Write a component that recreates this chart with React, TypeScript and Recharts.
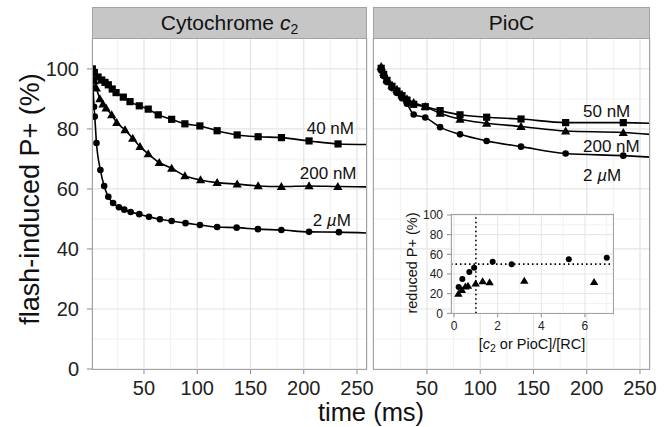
import React from "react";
import {
  ComposedChart,
  ScatterChart,
  Line,
  Scatter,
  XAxis,
  YAxis,
  CartesianGrid,
  ReferenceLine,
  ReferenceDot,
} from "recharts";

const FONT = "'Liberation Sans', Arial, Helvetica, sans-serif";

// ---------- data: Cytochrome c2 panel (time ms, flash-induced P+ %) ----------
const cyt40nM: number[][] = [
  [1.5, 100], [3.4, 98.8], [6.9, 97.3], [10.3, 96.3], [13.4, 95.5], [16.5, 94.7],
  [20.2, 93.3], [23.8, 92.1], [30.6, 90.6], [36.9, 89.1], [45.6, 87.7], [54, 86.6],
  [63.4, 84.7], [76, 83.2], [88.4, 81.7], [102.5, 81], [118.7, 79.4], [137.5, 78],
  [157.2, 77.4], [179.1, 77.1], [205, 76], [232.2, 75],
];
const cyt200nM: number[][] = [
  [1.5, 100], [3.4, 96], [5.3, 93.6], [8.6, 90], [11.5, 88.3], [14.4, 86.9],
  [19.7, 84.7], [24.4, 82.1], [32.2, 79.7], [39.4, 76.9], [46.3, 74.1], [54, 71.7],
  [64.3, 68.8], [76, 66.9], [88.4, 64.4], [103.1, 63], [118.7, 62.1], [137.5, 61.6],
  [157.2, 61], [179, 60.8], [205, 61], [232, 60.8],
];
const cyt2uM: number[][] = [
  [1.5, 99], [2.2, 93.6], [3.1, 87.4], [3.8, 84.1], [5.4, 75.3], [9.1, 66.3],
  [12.6, 61], [16.5, 57.4], [21, 55.3], [26.5, 53.9], [31.5, 53.1], [37.5, 52.3],
  [45.6, 51.6], [54.7, 50.7], [65, 49.9], [76, 49.3], [89, 48.6], [102.5, 48],
  [118.7, 47.3], [137, 47.1], [157, 46.6], [179, 46.3], [205, 45.7], [233, 45.6],
];
// fitted curves continue to the panel edge
const fitEndT = 259.4;
const cytFitEnd = { c40: 74.8, c200: 60.7, c2: 45.3 };

// ---------- data: PioC panel ----------
const pioT = [7, 9.3, 12.4, 17.1, 21.8, 26.5, 31.2, 37.5, 48.4, 62.3, 81, 106, 138.3, 180.2, 234.3];
const pio50nM = [100.2, 98.2, 96.2, 94.2, 92.6, 91.1, 89.6, 88.2, 87.4, 86.1, 84.7, 83.9, 83.3, 82.1, 82.1];
const pio200nM = [100.8, 98.8, 96.6, 94.6, 93.2, 91.5, 90, 88.8, 87.4, 85.2, 83.2, 81.9, 80.8, 79.3, 78.8];
const pio2uM = [99.5, 97.6, 95.6, 93.6, 92, 90.2, 88.4, 84.8, 83.8, 80.6, 78.2, 76, 74.1, 71.8, 71.1];
const pioFitEnd = { c50: 81.9, c200: 78.2, c2: 70.6 };

// ---------- data: inset (ratio, reduced P+ %) ----------
const insetCyt: number[][] = [
  [0.21, 26.7], [0.38, 34.8], [0.7, 41.9], [0.92, 46.4], [1.77, 52.5], [2.64, 50],
  [5.26, 55.1], [7.0, 56.4],
];
const insetPioC: number[][] = [
  [0.2, 20], [0.36, 23.7], [0.52, 27.2], [0.64, 28], [0.99, 30.3], [1.31, 32.7],
  [1.63, 31.6], [3.22, 33], [6.42, 31.8],
];

// ---------- ticks / labels ----------
const timeTicks = [50, 100, 150, 200, 250];
const timeMinor = [25, 75, 125, 175, 225];
const pctTicks = [0, 20, 40, 60, 80, 100];
const pctMinor = [10, 30, 50, 70, 90];
const ratioTicks = [0, 2, 4, 6];
const ratioMinor = [1, 3, 5, 7];
const insetPctMinor = [10, 30, 50, 70, 90];

const cytLabels = [
  { t: 202.8, y: 78.3, conc: "40", unit: "nM" },
  { t: 196.3, y: 63.3, conc: "200", unit: "nM" },
  { t: 208.4, y: 47.7, conc: "2", unit: "µM" },
];
const pioLabels = [
  { t: 196.5, y: 84, conc: "50", unit: "nM" },
  { t: 196.5, y: 72.3, conc: "200", unit: "nM" },
  { t: 196.5, y: 62.7, conc: "2", unit: "µM" },
];

const toXY = (arr: number[][]) => arr.map(([t, y]) => ({ t, y }));
const zipXY = (ts: number[], ys: number[]) => ts.map((t, i) => ({ t, y: ys[i] }));

const Square = (p: any) => <rect x={p.cx - 3.6} y={p.cy - 3.6} width={7.2} height={7.2} fill="#000" />;
const Circle = (p: any) => <circle cx={p.cx} cy={p.cy} r={3.3} fill="#000" />;
const Triangle = (p: any) => (
  <path d={`M${p.cx},${p.cy - 4.6} L${p.cx + 4.6},${p.cy + 3.4} L${p.cx - 4.6},${p.cy + 3.4} Z`} fill="#000" />
);
const SmallCircle = (p: any) => <circle cx={p.cx} cy={p.cy} r={3} fill="#000" />;
const SmallTriangle = (p: any) => (
  <path d={`M${p.cx},${p.cy - 4} L${p.cx + 4.2},${p.cy + 3} L${p.cx - 4.2},${p.cy + 3} Z`} fill="#000" />
);

const makeLabel = (conc: string, unit: string) => (p: any) => (
  <text x={p.cx} y={p.cy} fontFamily={FONT} fontSize={17} fill="#111">
    {conc + " "}
    {unit === "µM" ? (
      <>
        <tspan fontStyle="italic">µ</tspan>
        <tspan>M</tspan>
      </>
    ) : (
      <tspan>{unit}</tspan>
    )}
  </text>
);

const W = 669;
const H = 427;
const BORDER = "#a3a3a3";
const GRID_MAJOR = "#e4e4e4";
const GRID_MINOR = "#f1f1f1";
const tickStyle = { fontFamily: FONT, fontSize: 20, fill: "#222" };

const leftDomain: [number, number] = [1.2, 259.4];
const rightDomain: [number, number] = [-0.7, 259.4];
const pctDomain: [number, number] = [0, 110.3];

function Panel(props: {
  domain: [number, number];
  margin: any;
  showY: boolean;
  series: { pts: { t: number; y: number }[]; fit: { t: number; y: number }[]; shape: any }[];
  labels: { t: number; y: number; conc: string; unit: string }[];
}) {
  const { domain, margin, showY, series, labels } = props;
  return (
    <ComposedChart width={W} height={H} margin={margin} style={{ position: "absolute", left: 0, top: 0 }}>
      <XAxis xAxisId="m" type="number" dataKey="t" domain={domain} ticks={timeMinor} hide allowDataOverflow />
      <YAxis yAxisId="m" type="number" dataKey="y" domain={pctDomain} ticks={pctMinor} hide allowDataOverflow />
      <CartesianGrid xAxisId="m" yAxisId="m" stroke={GRID_MINOR} strokeWidth={1} fill="#fff" />
      <CartesianGrid stroke={GRID_MAJOR} strokeWidth={1.2} />
      <XAxis
        type="number"
        dataKey="t"
        domain={domain}
        ticks={timeTicks}
        interval={0}
        allowDataOverflow
        height={30}
        tickSize={5}
        tickMargin={7}
        axisLine={false}
        tickLine={{ stroke: "#8a8a8a" }}
        tick={tickStyle}
      />
      <YAxis
        type="number"
        dataKey="y"
        domain={pctDomain}
        ticks={pctTicks}
        interval={0}
        allowDataOverflow
        hide={!showY}
        width={50}
        tickSize={5}
        tickMargin={8}
        axisLine={false}
        tickLine={{ stroke: "#8a8a8a" }}
        tick={tickStyle}
      />
      {series.map((s, i) => (
        <Line
          key={"l" + i}
          data={s.fit}
          dataKey="y"
          type="monotone"
          stroke="#000"
          strokeWidth={1.6}
          dot={false}
          activeDot={false}
          isAnimationActive={false}
        />
      ))}
      {series.map((s, i) => (
        <Scatter key={"s" + i} data={s.pts} dataKey="y" shape={s.shape} isAnimationActive={false} />
      ))}
      {labels.map((l, i) => (
        <ReferenceDot key={"r" + i} x={l.t} y={l.y} r={0} shape={makeLabel(l.conc, l.unit)} />
      ))}
    </ComposedChart>
  );
}

export default function App() {
  const leftSeries = [
    { pts: toXY(cyt40nM), fit: [...toXY(cyt40nM), { t: fitEndT, y: cytFitEnd.c40 }], shape: Square },
    { pts: toXY(cyt200nM), fit: [...toXY(cyt200nM), { t: fitEndT, y: cytFitEnd.c200 }], shape: Triangle },
    { pts: toXY(cyt2uM), fit: [...toXY(cyt2uM), { t: fitEndT, y: cytFitEnd.c2 }], shape: Circle },
  ];
  const rightSeries = [
    { pts: zipXY(pioT, pio50nM), fit: [...zipXY(pioT, pio50nM), { t: fitEndT, y: pioFitEnd.c50 }], shape: Square },
    { pts: zipXY(pioT, pio200nM), fit: [...zipXY(pioT, pio200nM), { t: fitEndT, y: pioFitEnd.c200 }], shape: Triangle },
    { pts: zipXY(pioT, pio2uM), fit: [...zipXY(pioT, pio2uM), { t: fitEndT, y: pioFitEnd.c2 }], shape: Circle },
  ];
  const insetTick = { fontFamily: FONT, fontSize: 12, fill: "#222" };

  const strip = (left: number, width: number, content: React.ReactNode) => (
    <div
      style={{
        position: "absolute",
        left,
        top: 7,
        width,
        height: 31,
        boxSizing: "border-box",
        background: "#c6c6c6",
        border: `1px solid ${BORDER}`,
        borderBottom: "none",
        fontFamily: FONT,
        fontSize: 21,
        lineHeight: "30px",
        textAlign: "center",
        color: "#111",
      }}
    >
      {content}
    </div>
  );
  const box = (left: number, top: number, width: number, height: number) => (
    <div
      style={{
        position: "absolute",
        left,
        top,
        width,
        height,
        boxSizing: "border-box",
        border: `1px solid ${BORDER}`,
        pointerEvents: "none",
      }}
    />
  );

  return (
    <div style={{ position: "absolute", left: 0, top: 0, width: W, height: H, background: "#fff", overflow: "hidden" }}>
      <Panel
        domain={leftDomain}
        margin={{ top: 38, right: 302, bottom: 28, left: 42 }}
        showY={true}
        series={leftSeries}
        labels={cytLabels}
      />
      <Panel
        domain={rightDomain}
        margin={{ top: 38, right: 19, bottom: 28, left: 373 }}
        showY={false}
        series={rightSeries}
        labels={pioLabels}
      />
      <ScatterChart
        width={W}
        height={H}
        margin={{ top: 214.3, right: 55.7, bottom: 93.7, left: 421 }}
        style={{ position: "absolute", left: 0, top: 0 }}
      >
        <XAxis xAxisId="m" type="number" dataKey="x" domain={[-0.14, 7.3]} ticks={ratioMinor} hide allowDataOverflow />
        <YAxis yAxisId="m" type="number" dataKey="y" domain={[0, 100.7]} ticks={insetPctMinor} hide allowDataOverflow />
        <CartesianGrid xAxisId="m" yAxisId="m" stroke={GRID_MINOR} fill="#fff" />
        <CartesianGrid stroke={GRID_MAJOR} />
        <XAxis
          type="number"
          dataKey="x"
          domain={[-0.14, 7.3]}
          ticks={ratioTicks}
          interval={0}
          allowDataOverflow
          height={20}
          tickSize={4}
          tickMargin={4}
          axisLine={false}
          tickLine={{ stroke: "#8a8a8a" }}
          tick={insetTick}
        />
        <YAxis
          type="number"
          dataKey="y"
          domain={[0, 100.7]}
          ticks={pctTicks}
          interval={0}
          allowDataOverflow
          width={30}
          tickSize={4}
          tickMargin={4}
          axisLine={false}
          tickLine={{ stroke: "#8a8a8a" }}
          tick={insetTick}
        />
        <ReferenceLine x={1} stroke="#000" strokeWidth={1.6} strokeDasharray="1.5 3" />
        <ReferenceLine y={50} stroke="#000" strokeWidth={1.6} strokeDasharray="1.5 3" />
        <Scatter data={insetCyt.map(([x, y]) => ({ x, y }))} shape={SmallCircle} isAnimationActive={false} />
        <Scatter data={insetPioC.map(([x, y]) => ({ x, y }))} shape={SmallTriangle} isAnimationActive={false} />
      </ScatterChart>

      {strip(92, 275, <span>Cytochrome <i>c</i><sub style={{ fontSize: 14, verticalAlign: "-4px" }}>2</sub></span>)}
      {strip(373, 277, <span>PioC</span>)}
      {box(92, 38, 275, 332)}
      {box(373, 38, 277, 332)}
      {box(451, 214, 163, 100)}

      <svg width={W} height={H} style={{ position: "absolute", left: 0, top: 0, pointerEvents: "none" }}>
        <text
          x={30}
          y={199}
          transform="rotate(-90 30 199)"
          textAnchor="middle"
          dominantBaseline="central"
          fontFamily={FONT}
          fontSize={27}
          fill="#111"
        >
          flash-induced P+ (%)
        </text>
        <text x={371} y={421} textAnchor="middle" fontFamily={FONT} fontSize={25.5} fill="#111">
          time (ms)
        </text>
        <text
          x={412}
          y={263}
          transform="rotate(-90 412 263)"
          textAnchor="middle"
          dominantBaseline="central"
          fontFamily={FONT}
          fontSize={14.5}
          fill="#111"
        >
          reduced P+ (%)
        </text>
        <text x={532} y={349} textAnchor="middle" fontFamily={FONT} fontSize={14.5} fill="#111">
          [<tspan fontStyle="italic">c</tspan>
          <tspan fontSize={10.5} dy={3}>2</tspan>
          <tspan dy={-3}> or PioC]/[RC]</tspan>
        </text>
      </svg>
    </div>
  );
}
